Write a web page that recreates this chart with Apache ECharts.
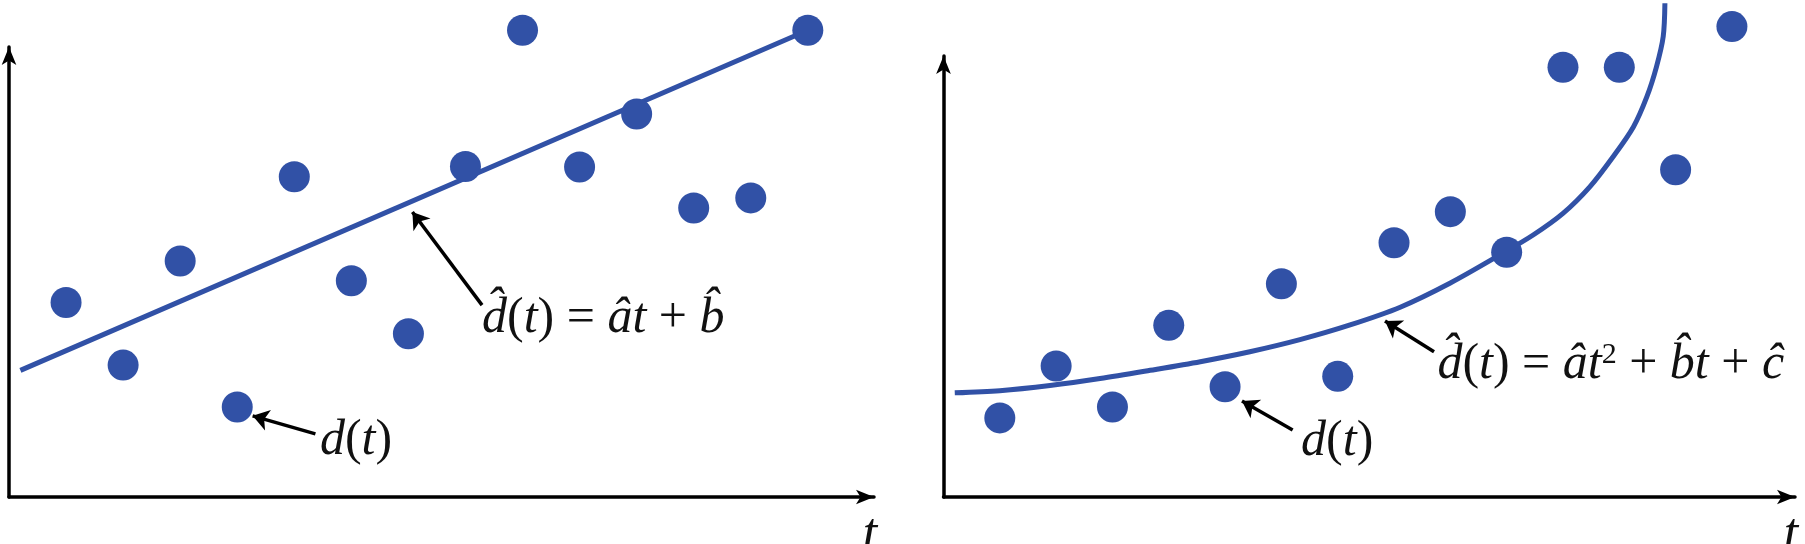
<!DOCTYPE html>
<html><head><meta charset="utf-8">
<script src="https://cdn.jsdelivr.net/npm/echarts@6/dist/echarts.min.js"></script>
<style>html,body{margin:0;padding:0;background:#fff}#c{width:1805px;height:544px}</style>
</head><body><div id="c"></div>
<script>
// ---- data (abstract units: t along x, d along y) ----
const tPoints = [1, 2, 3, 4, 5, 6, 7, 8, 9, 10, 11, 12, 13, 14];
const dLeft  = [4.41, 2.99, 5.35, 2.04, 7.26, 4.90, 3.70, 7.49, 10.58, 7.48, 8.68, 6.55, 6.78, 10.58];
const fitLeftT = [0.20, 14];
const fitLeftD = [2.87, 10.58];
const dRight = [1.83, 3.03, 2.08, 3.97, 2.55, 4.93, 2.79, 5.88, 6.60, 5.66, 9.94, 9.94, 7.57, 10.88];
const fitRightT = [0.20, 1.00, 1.89, 2.78, 3.67, 4.56, 5.44, 6.33, 7.22, 8.11, 9.00, 9.88, 10.47, 11.00, 11.48, 11.89, 12.25, 12.49, 12.66, 12.78, 12.81];
const fitRightD = [2.41, 2.46, 2.58, 2.74, 2.93, 3.13, 3.36, 3.64, 3.98, 4.39, 4.95, 5.60, 6.06, 6.56, 7.18, 7.87, 8.56, 9.26, 9.95, 10.65, 11.42];
const axisLabelName = 't';
const eqLeftText = '{i|d\u0302}{r|(}{i|t}{r|)}{r| = }{i|\u00e2t}{r| + }{i|b\u0302}';
const eqRightText = '{i|d\u0302}{r|(}{i|t}{r|)}{r| = }{i|\u00e2t}{s|2}{r| + }{i|b\u0302t}{r| + }{i|\u0109}';
const obsText = '{i|d}{r|(}{i|t}{r|)}';

// annotation anchors (data coordinates)
const eqLeftAt = [8.29, 4.04], eqLeftArrow = [[8.29, 4.35], [7.07, 6.46]];
const obsLeftAt = [5.45, 1.27], obsLeftArrow = [[5.37, 1.43], [4.27, 1.84]];
const eqRightAt = [8.77, 3.06], eqRightArrow = [[8.71, 3.36], [7.84, 4.07]];
const obsRightAt = [6.35, 1.27], obsRightArrow = [[6.20, 1.55], [5.30, 2.22]];

const BLUE = '#3151a6';
const SERIF = 'Liberation Serif';
const FS = 50;
const rich = {
  i: { fontFamily: SERIF, fontStyle: 'italic', fontSize: FS, color: '#111' },
  r: { fontFamily: SERIF, fontSize: FS, color: '#111' },
  s: { fontFamily: SERIF, fontSize: 30, color: '#111', verticalAlign: 'top', padding: [0, 0, 16, 0] }
};

function zip(a, b) { return a.map((v, i) => [v, b[i]]); }

function axisX(gi, max) {
  return {
    type: 'value', gridIndex: gi, min: 0, max: max,
    axisLine: { show: true, onZero: false, symbol: ['none', 'arrow'], symbolSize: [11, 18],
      lineStyle: { color: '#000', width: 3.5 } },
    axisTick: { show: false }, axisLabel: { show: false }, splitLine: { show: false },
    name: axisLabelName, nameLocation: 'end', nameGap: -4,
    nameTextStyle: { fontFamily: SERIF, fontStyle: 'italic', fontSize: 52, color: '#111',
      align: 'center', verticalAlign: 'top', padding: [12, 0, 0, 0] }
  };
}
function axisY(gi, max) {
  return {
    type: 'value', gridIndex: gi, min: 0, max: max,
    axisLine: { show: true, onZero: false, symbol: ['none', 'arrow'], symbolSize: [11, 18],
      lineStyle: { color: '#000', width: 3.5 } },
    axisTick: { show: false }, axisLabel: { show: false }, splitLine: { show: false }
  };
}
function arrowLine(seg) {
  return [{ coord: seg[0], symbol: 'none' }, { coord: seg[1], symbol: 'arrow' }];
}
function textPoint(at, txt) {
  return { coord: at, symbol: 'circle', symbolSize: 0,
    label: { show: true, fontFamily: SERIF, fontSize: FS, color: '#111', position: [0, 0],
      align: 'left', verticalAlign: 'middle', formatter: txt, rich: rich } };
}

const option = {
  animation: false,
  backgroundColor: '#fff',
  textStyle: { fontFamily: SERIF },
  grid: [
    { left: 9, right: 1805 - 874, top: 47, bottom: 47, containLabel: false, outerBoundsMode: 'none' },
    { left: 943.5, right: 1805 - 1795, top: 56, bottom: 47, containLabel: false, outerBoundsMode: 'none' }
  ],
  xAxis: [axisX(0, 15.16), axisX(1, 15.12)],
  yAxis: [axisY(0, 10.2), axisY(1, 10.2)],
  series: [
    { type: 'line', xAxisIndex: 0, yAxisIndex: 0, data: zip(fitLeftT, fitLeftD), showSymbol: false,
      symbol: 'none', clip: false, z: 2, lineStyle: { color: BLUE, width: 5 },
      markLine: { silent: true, symbolSize: 16, label: { show: false },
        lineStyle: { color: '#000', width: 3.5, type: 'solid' },
        data: [arrowLine(eqLeftArrow), arrowLine(obsLeftArrow)] },
      markPoint: { silent: true, data: [textPoint(eqLeftAt, eqLeftText), textPoint(obsLeftAt, obsText)] }
    },
    { type: 'scatter', xAxisIndex: 0, yAxisIndex: 0, data: zip(tPoints, dLeft), symbolSize: 31,
      clip: false, z: 3, itemStyle: { color: BLUE, opacity: 1 } },
    { type: 'line', xAxisIndex: 1, yAxisIndex: 1, data: zip(fitRightT, fitRightD), showSymbol: false,
      symbol: 'none', smooth: 0.3, clip: false, z: 2, lineStyle: { color: BLUE, width: 5 },
      markLine: { silent: true, symbolSize: 16, label: { show: false },
        lineStyle: { color: '#000', width: 3.5, type: 'solid' },
        data: [arrowLine(eqRightArrow), arrowLine(obsRightArrow)] },
      markPoint: { silent: true, data: [textPoint(eqRightAt, eqRightText), textPoint(obsRightAt, obsText)] }
    },
    { type: 'scatter', xAxisIndex: 1, yAxisIndex: 1, data: zip(tPoints, dRight), symbolSize: 31,
      clip: false, z: 3, itemStyle: { color: BLUE, opacity: 1 } }
  ]
};
const chart = echarts.init(document.getElementById('c'), null, { renderer: 'canvas' });
chart.setOption(option);
</script></body></html>
